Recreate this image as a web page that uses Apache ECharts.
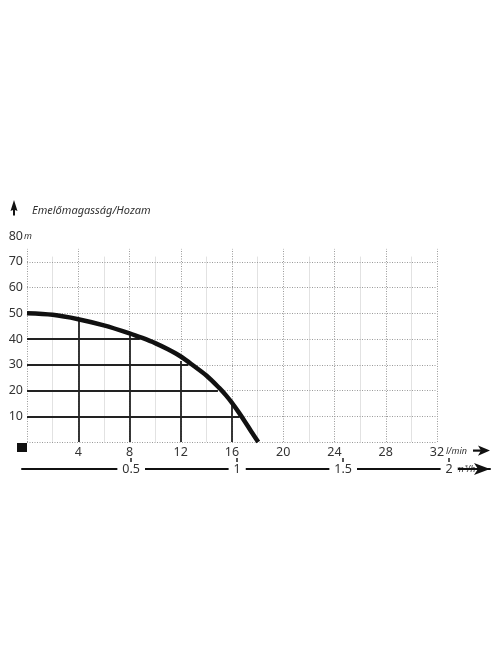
<!DOCTYPE html>
<html>
<head>
<meta charset="utf-8">
<script src="https://cdn.jsdelivr.net/npm/echarts@6/dist/echarts.min.js"></script>
<style>html,body{margin:0;padding:0;background:#fff}#c{width:496px;height:664px}</style>
</head>
<body>
<div id="c"></div>
<script>
// ---- data ----
const flowLmin = [0, 2, 4, 6, 8, 9, 10, 11, 12, 13, 14, 15, 15.5, 16, 16.5, 17, 17.5, 18.05];
const headM    = [50, 49.4, 47.7, 45.3, 42.2, 40.4, 38.4, 36, 33.2, 29.6, 25.8, 21, 18.3, 15.2, 11.7, 8, 4.1, 0];
const dropFlow = [4, 8, 12, 16];
const dropTop  = [47.5, 41.5, 31.5, 14.5];
const levelHead = [10, 20, 30, 40];
const levelEnd  = [16.6, 14.9, 12.6, 8.8];
const gridHead  = [0, 10, 20, 30, 40, 50, 60, 70];
const majorFlow = [0, 4, 8, 12, 16, 20, 24, 28, 32];
const minorFlow = [2, 6, 10, 14, 18, 22, 26, 30];
const m3hTicks  = [0.5, 1, 1.5, 2];
const titleText = 'Emelőmagasság/Hozam';

const FONT = '"Noto Sans", "Open Sans", sans-serif';
const chart = echarts.init(document.getElementById('c'), null, {renderer: 'canvas'});

const gridLines = gridHead.map(h => [{coord: [0, h]}, {coord: [32, h]}]);
const majorLines = majorFlow.map(f => [{coord: [f, 0]}, {coord: [f, 75]}]);
const minorLines = minorFlow.map(f => [{coord: [f, 0]}, {coord: [f, 72]}]);
const dropLines = dropFlow.map((f, i) => [{coord: [f, 0]}, {coord: [f, dropTop[i]]}])
  .concat(levelHead.map((h, i) => [{coord: [0, h]}, {coord: [levelEnd[i], h]}]));

function ml(data, style) {
  return {
    silent: true, symbol: ['none', 'none'], label: {show: false},
    lineStyle: style, emphasis: {disabled: true}, animation: false, data: data
  };
}

chart.setOption({
  animation: false,
  textStyle: {fontFamily: FONT},
  title: {
    text: titleText, left: 27, top: 200,
    textStyle: {fontFamily: FONT, fontSize: 11, fontStyle: 'italic', fontWeight: 'normal', color: '#333'}
  },
  grid: [
    {left: 27, right: 59, top: 236, bottom: 222, outerBoundsMode: 'none'},
    {left: 22, right: 6, top: 460, bottom: 195, outerBoundsMode: 'none'}
  ],
  xAxis: [
    {
      type: 'value', gridIndex: 0, min: 0, max: 32, interval: 4,
      axisLine: {show: false}, axisTick: {show: false}, splitLine: {show: false},
      axisLabel: {margin: 4, fontSize: 12.5, color: '#333', formatter: v => v === 0 ? '' : String(v)},
      name: 'l/min', nameLocation: 'end', nameGap: 9, nameMoveOverlap: false,
      nameTextStyle: {fontSize: 9, fontStyle: 'italic', color: '#333', verticalAlign: 'top', padding: [5, 0, 0, 0]}
    },
    {
      type: 'value', gridIndex: 1, min: -0.015, max: 2.1925, position: 'bottom',
      axisLine: {show: true, lineStyle: {color: '#111', width: 2}, symbol: ['none', 'arrow'], symbolSize: [9, 16]},
      axisTick: {show: true, customValues: m3hTicks, inside: true, length: 11, lineStyle: {color: '#222', width: 1.5}},
      splitLine: {show: false},
      axisLabel: {customValues: m3hTicks, margin: -7, fontSize: 12.5, color: '#333',
        backgroundColor: '#fff', padding: [1, 5, 1, 5], formatter: v => String(v)},
      name: 'm³/h', nameLocation: 'end', nameGap: -36, nameMoveOverlap: false,
      nameTextStyle: {fontSize: 9, fontStyle: 'italic', color: '#333', backgroundColor: '#fff',
        verticalAlign: 'middle', align: 'left', padding: [2, 2, 2, 2]}
    }
  ],
  yAxis: [
    {
      type: 'value', gridIndex: 0, min: 0, max: 80, interval: 10,
      axisLine: {show: false}, axisTick: {show: false}, splitLine: {show: false},
      axisLabel: {margin: 4, fontSize: 12.5, color: '#333', formatter: v => v === 0 ? '' : String(v)},
      name: 'm', nameLocation: 'end', nameGap: 0, nameMoveOverlap: false,
      nameTextStyle: {fontSize: 9, fontStyle: 'italic', color: '#333', verticalAlign: 'middle', align: 'center', padding: [0, 0, 0, 2]}
    },
    {type: 'value', gridIndex: 1, show: false, min: 0, max: 1}
  ],
  graphic: [
    {type: 'rect', shape: {x: 17, y: 443, width: 10, height: 9}, style: {fill: '#111'}},
    {type: 'polygon', shape: {points: [[14, 200], [17.5, 211], [15, 210], [15, 215.5], [13, 215.5], [13, 210], [10.5, 211]]}, style: {fill: '#111'}},
    {type: 'rect', shape: {x: 473, y: 449.5, width: 9, height: 2.2}, style: {fill: '#111'}},
    {type: 'polygon', shape: {points: [[478, 445.5], [490, 450.6], [478, 455.7], [481, 450.6]]}, style: {fill: '#111'}}
  ],
  series: [
    {
      type: 'line', xAxisIndex: 0, yAxisIndex: 0, data: [], z: 1,
      markLine: Object.assign(ml(gridLines.concat(majorLines), {color: '#9a9a9a', width: 1, type: [1, 1.5]}), {z: 1})
    },
    {
      type: 'line', xAxisIndex: 0, yAxisIndex: 0, data: [], z: 1,
      markLine: Object.assign(ml(minorLines, {color: '#e2e2e2', width: 1, type: 'solid'}), {z: 0})
    },
    {
      type: 'line', xAxisIndex: 0, yAxisIndex: 0, data: [], z: 2,
      markLine: ml(dropLines, {color: '#222', width: 1.8, type: 'solid'})
    },
    {
      type: 'line', xAxisIndex: 0, yAxisIndex: 0, z: 5,
      data: flowLmin.map((f, i) => [f, headM[i]]),
      showSymbol: false, smooth: 0.3, silent: true,
      lineStyle: {color: '#111', width: 4.5, cap: 'butt'}
    }
  ]
});
</script>
</body>
</html>
